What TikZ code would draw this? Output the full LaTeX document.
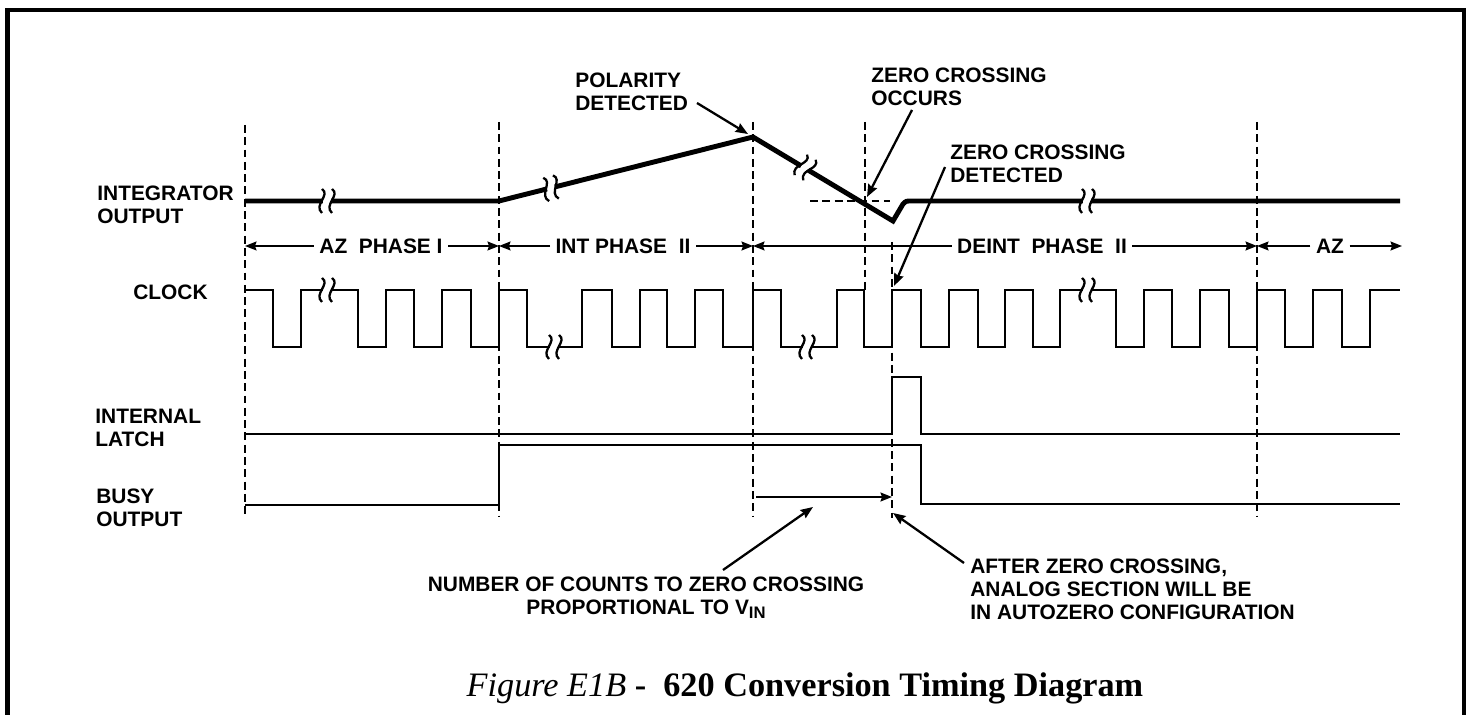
\documentclass[tikz,border=0pt]{standalone}
\usepackage{fontspec}
\setmainfont{Liberation Serif}
\setsansfont{Liberation Sans}
\usetikzlibrary{arrows.meta}

\newcommand{\lblfont}{\sffamily\bfseries\fontsize{11.9}{13}\selectfont}

\begin{document}
\begin{tikzpicture}[x=0.02cm, y=-0.02cm]
  \tikzset{
    lbl/.style={inner sep=0pt, align=left, font=\lblfont},
    plbl/.style={inner xsep=3pt, inner ysep=0pt, font=\lblfont},
    wave/.style={line width=1.3pt},
    intwave/.style={line width=2.8pt},
    vline/.style={line width=1.1pt, dash pattern=on 4.5pt off 2.5pt},
    parr/.style={line width=1.1pt, -{Stealth[length=6.5pt,width=5pt,inset=0.8pt]}},
    arr/.style={line width=1.3pt, -{Stealth[length=7pt,width=5.5pt,inset=0.8pt]}},
    brk/.pic={
      \fill[white] (-5,-5) rectangle (3,5);
      \draw[line width=1.3pt] (-6,-12) .. controls (3,-6) and (-15,4) .. (-6,12);
      \draw[line width=1.3pt] (4,-12) .. controls (13,-6) and (-5,4) .. (4,12);
    }
  }
  \useasboundingbox (0,0) rectangle (1470,715);

  % frame
  \draw[line width=2.8pt] (7.5,716) |- (1464,10) -- (1464,716);

  % phase boundaries
  \foreach \x/\a/\b in {245/125/517, 499/122/517, 753/122/517,
                        865/122/290, 892/242/518, 1257/122/517}
    \draw[vline] (\x,\a) -- (\x,\b);
  \draw[vline] (810,201) -- (890,201);

  % signal names
  \node[lbl, anchor=west] (intg)  at (97,204.5) {INTEGRATOR\\OUTPUT};
  \node[lbl, anchor=west] (clk)   at (133,292)  {CLOCK};
  \node[lbl, anchor=west] (latch) at (95,428)   {INTERNAL\\LATCH};
  \node[lbl, anchor=west] (busy)  at (96,507.5) {BUSY\\OUTPUT};

  % integrator output
  \draw[intwave] (245,201) -- (499,201) -- (753,137) -- (893,221)
    -- (903,204) .. controls (906,201) .. (912,201) -- (1400,201);

  % phases
  \coordinate (p0) at (245,246);
  \coordinate (p1) at (499,246);
  \coordinate (p2) at (753,246);
  \coordinate (p3) at (1257,246);
  \coordinate (p4) at (1402,246);
  \node[plbl] (az1)   at (381,246)  {AZ\ \ PHASE I};
  \node[plbl] (int)   at (623,246)  {INT PHASE\ \ II};
  \node[plbl] (deint) at (1042,246) {DEINT\ \ PHASE\ \ II};
  \node[plbl] (az2)   at (1330,246) {AZ};
  \foreach \n/\a/\b in {az1/p0/p1, int/p1/p2, deint/p2/p3, az2/p3/p4} {
    \draw[parr] (\n) -- (\a);
    \draw[parr] (\n) -- (\b);
  }

  % clock
  \draw[wave] (245,290)
    \foreach \x/\y in {273/347, 301/290, 358/347, 386/290, 414/347, 442/290,
                       471/347, 499/290, 527/347, 582/290, 612/347, 640/290,
                       667/347, 695/290, 723/347, 753/290, 781/347, 837/290,
                       864/347, 892/290, 921/347, 949/290, 978/347, 1005/290,
                       1033/347, 1060/290, 1116/347, 1144/290, 1172/347,
                       1200/290, 1229/347, 1257/290, 1285/347, 1313/290,
                       1342/347, 1370/290} { -| (\x,\y) }
    -- (1400,290);

  % latch and busy
  \draw[wave] (245,434) -- (892,434) |- (921,377) |- (1400,434);
  \draw[wave] (245,505) -| (499,445) -| (921,504) -- (1400,504);

  % breaks
  \foreach \x/\y/\r in {328/201/0, 552/188/14.2, 806/168/-31, 1088/201/0,
                        328/290/0, 555/347/0, 808/347/0, 1088/290/0}
    \pic[rotate=\r] at (\x,\y) {brk};

  % counts
  \coordinate (cs) at (756,497);
  \coordinate (ce) at (892,497);
  \draw[parr] (cs) -- (ce);

  % notes
  \node[lbl, anchor=west] (pol) at (575,91.5)  {POLARITY\\DETECTED};
  \node[lbl, anchor=west] (zco) at (871,86.5)  {ZERO CROSSING\\OCCURS};
  \node[lbl, anchor=west] (zcd) at (950,163.5) {ZERO CROSSING\\DETECTED};
  \node[lbl, align=center] (num) at (646,597.5)
    {NUMBER OF COUNTS TO ZERO CROSSING\\PROPORTIONAL TO
     V\raisebox{-0.4ex}{\fontsize{9.5}{10}\selectfont IN}};
  \node[lbl, anchor=west] (aft) at (970,589.5)
    {AFTER ZERO CROSSING,\\ANALOG SECTION WILL BE\\IN AUTOZERO CONFIGURATION};

  \coordinate (polT) at (697,103);  \coordinate (polH) at (748,134);
  \coordinate (zcoT) at (912,110);  \coordinate (zcoH) at (867,197);
  \coordinate (zcdT) at (945,167);  \coordinate (zcdH) at (894,286);
  \coordinate (numT) at (723,570);  \coordinate (numH) at (813,507);
  \coordinate (aftT) at (964,563);  \coordinate (aftH) at (893,513);
  \foreach \a/\b in {polT/polH, zcoT/zcoH, zcdT/zcdH, numT/numH, aftT/aftH}
    \draw[arr] (\a) -- (\b);

  % caption
  \node[font=\fontsize{19.5}{21}\selectfont] (cap) at (805,688)
    {\textit{Figure E1B} \textbf{-\ \ 620 Conversion Timing Diagram}};
\end{tikzpicture}
\end{document}
